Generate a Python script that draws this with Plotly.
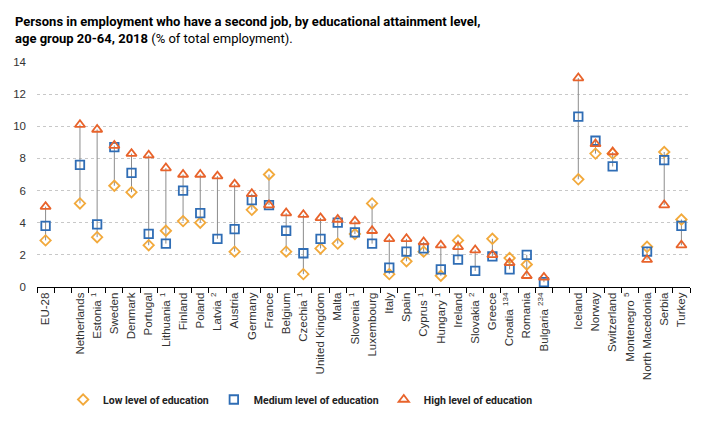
import plotly.graph_objects as go

categories = ["EU-28", " ", "Netherlands", "Estonia <sup>1</sup>", "Sweden", "Denmark", "Portugal",
              "Lithuania <sup>1</sup>", "Finland", "Poland", "Latvia <sup>2</sup>", "Austria", "Germany",
              "France", "Belgium", "Czechia <sup>1</sup>", "United Kingdom", "Malta", "Slovenia <sup>1</sup>",
              "Luxembourg", "Italy", "Spain", "Cyprus <sup>1</sup>", "Hungary <sup>1</sup>", "Ireland",
              "Slovakia <sup>2</sup>", "Greece", "Croatia <sup>134</sup>", "Romania", "Bulgaria <sup>234</sup>",
              "  ", "Iceland", "Norway", "Switzerland", "Montenegro <sup>5</sup>", "North Macedonia",
              "Serbia", "Turkey"]

low = [2.9, None, 5.2, 3.1, 6.3, 5.9, 2.6, 3.5, 4.1, 4.0, None, 2.2, 4.8,
       7.0, 2.2, 0.8, 2.4, 2.7, 3.3, 5.2, 0.8, 1.6, 2.2, 0.7, 2.9,
       None, 3.0, 1.8, 1.4, None,
       None, 6.7, 8.3, 8.3, None, 2.5, 8.4, 4.2]
medium = [3.8, None, 7.6, 3.9, 8.7, 7.1, 3.3, 2.7, 6.0, 4.6, 3.0, 3.6, 5.4,
          5.1, 3.5, 2.1, 3.0, 4.0, 3.4, 2.7, 1.2, 2.2, 2.4, 1.1, 1.7,
          1.0, 1.9, 1.1, 2.0, 0.3,
          None, 10.6, 9.1, 7.5, None, 2.2, 7.9, 3.8]
high = [5.0, None, 10.1, 9.8, 8.8, 8.3, 8.2, 7.4, 7.0, 7.0, 6.9, 6.4, 5.8,
        5.1, 4.6, 4.5, 4.3, 4.2, 4.1, 3.5, 3.0, 3.0, 2.8, 2.6, 2.5,
        2.3, 2.0, 1.5, 0.7, 0.6,
        None, 13.0, 8.9, 8.4, None, 1.7, 5.1, 2.6]

series_names = ["Low level of education", "Medium level of education", "High level of education"]
y_ticks = [0, 2, 4, 6, 8, 10, 12, 14]

C_LOW = "#F2A93B"
C_MED = "#2F6DB5"
C_HIGH = "#E8632B"

SANS = "Liberation Sans, Arial, sans-serif"
TITLE_FONT = "Roboto, Liberation Sans, Arial, sans-serif"

# connector lines (min to max per category)
cx, cy = [], []
for i, c in enumerate(categories):
    vals = [v for v in (low[i], medium[i], high[i]) if v is not None]
    if len(vals) >= 2:
        cx += [c, c, None]
        cy += [min(vals), max(vals), None]

fig = go.Figure()
fig.add_trace(go.Scatter(x=cx, y=cy, mode="lines", line=dict(color="#8C8C8C", width=1),
                         showlegend=False, hoverinfo="skip"))
fig.add_trace(go.Scatter(x=categories, y=low, mode="markers", name="<b>" + series_names[0] + "</b>",
                         marker=dict(symbol="diamond-open", size=8, color=C_LOW, line=dict(width=1.8, color=C_LOW))))
fig.add_trace(go.Scatter(x=categories, y=medium, mode="markers", name="<b>" + series_names[1] + "</b>",
                         marker=dict(symbol="square-open", size=8.5, color=C_MED, line=dict(width=1.8, color=C_MED))))
fig.add_trace(go.Scatter(x=categories, y=high, mode="markers", name="<b>" + series_names[2] + "</b>",
                         marker=dict(symbol="triangle-up-open", size=9, color=C_HIGH, line=dict(width=1.8, color=C_HIGH))))

fig.update_layout(
    width=718, height=424,
    margin=dict(l=37, r=28, t=62, b=137, autoexpand=False),
    paper_bgcolor="white", plot_bgcolor="white",
    font=dict(family=SANS, size=11, color="#333333"),
    title=dict(
        text="<b>Persons in employment who have a second job, by educational attainment level,<br>"
             "age group 20-64, 2018</b> (% of total employment).",
        x=15 / 718, xref="container", xanchor="left",
        y=1 - 26 / 424, yref="container", yanchor="top",
        font=dict(size=13, color="#000000", family=TITLE_FONT),
    ),
    showlegend=True,
    legend=dict(orientation="h", x=0.04, xanchor="left", y=-0.50, yanchor="middle",
                font=dict(size=10.5, color="#222222", family=TITLE_FONT), itemwidth=30, tracegroupgap=0,
                bgcolor="rgba(0,0,0,0)"),
    xaxis=dict(
        type="category", categoryorder="array", categoryarray=categories,
        tickangle=-90, showline=True, linecolor="#000000", linewidth=1,
        ticks="outside", tickson="boundaries", ticklen=5, tickcolor="#000000",
        showgrid=False, tickfont=dict(size=11.5, color="#333333", family=SANS),
        range=[-0.5, len(categories) - 0.5], automargin=False,
    ),
    yaxis=dict(
        range=[0, 14], tickvals=y_ticks, showgrid=True, gridcolor="#C8C8C8", griddash="dot",
        gridwidth=1, zeroline=False, showline=False, ticks="", ticklabelstandoff=10,
        tickfont=dict(size=11.5, color="#333333", family=SANS), automargin=False,
    ),
)

fig.write_html("out.html", config={"displayModeBar": False},
               post_script="document.body.style.margin='0';")
